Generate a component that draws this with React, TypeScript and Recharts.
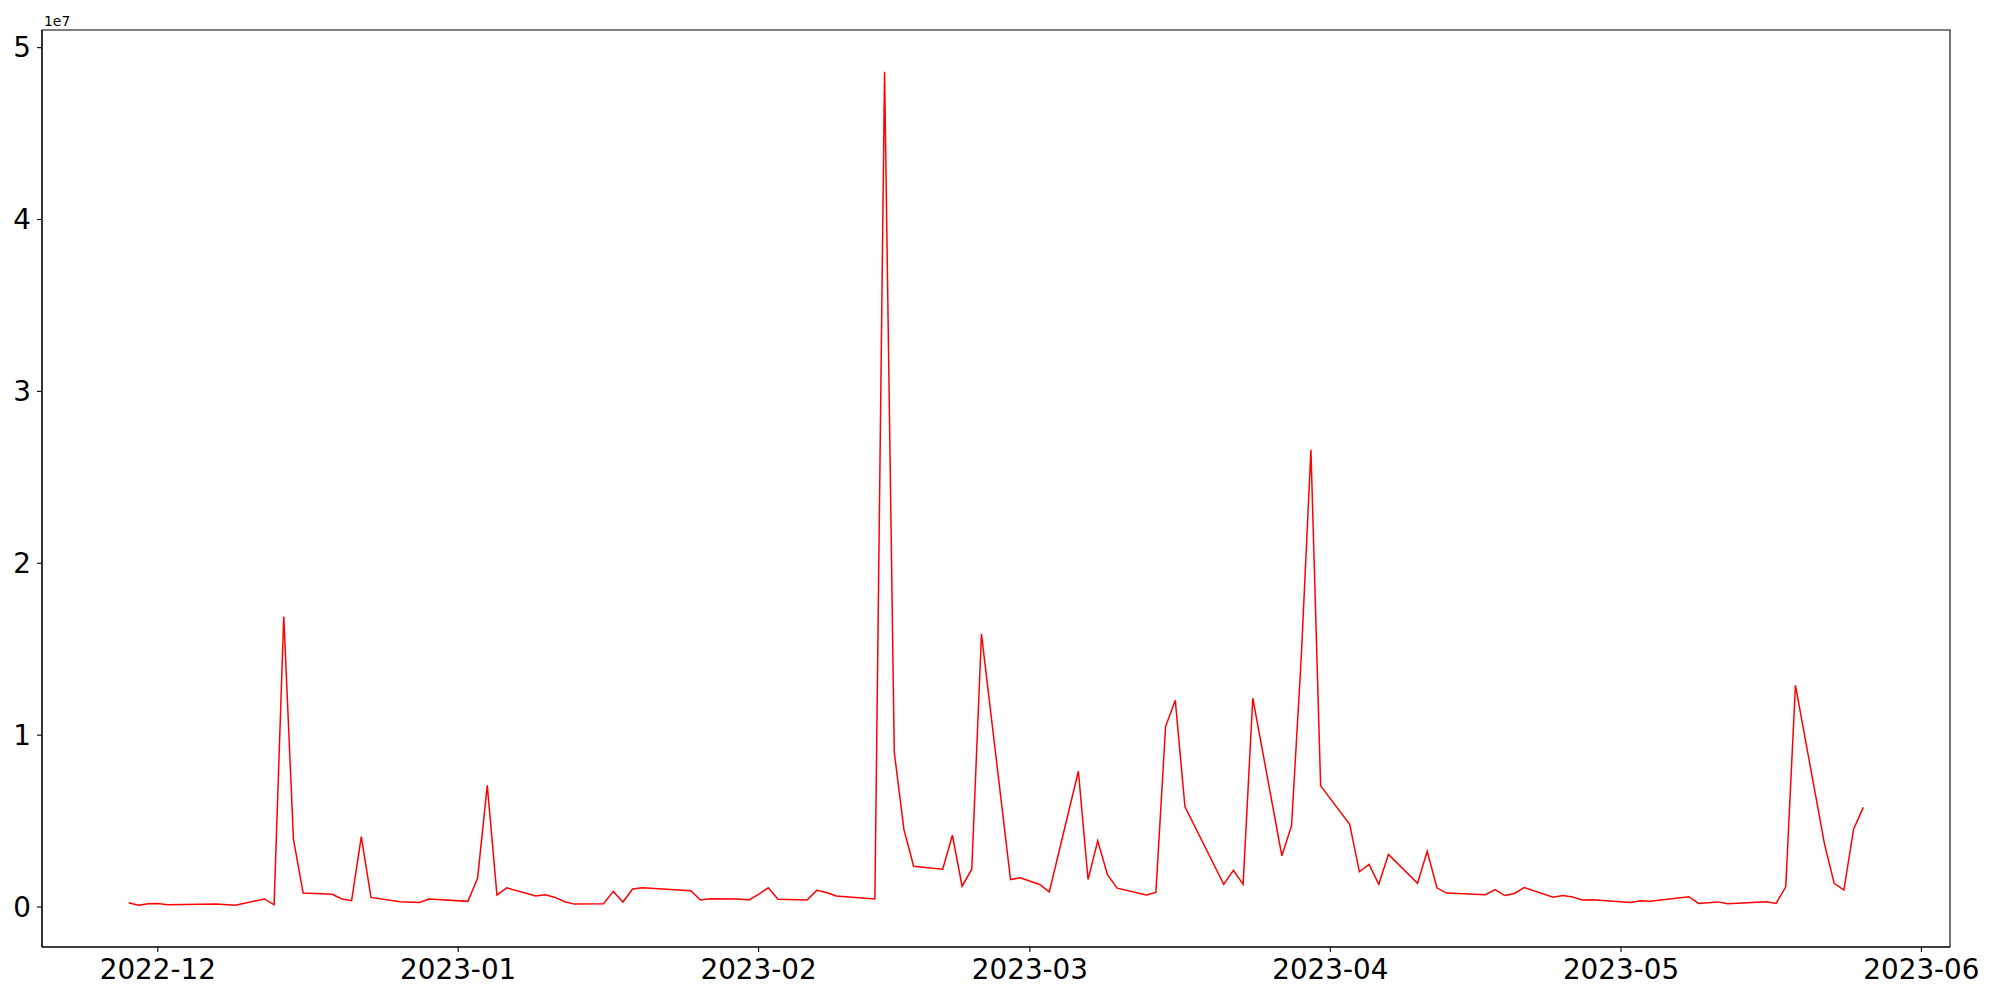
import { LineChart, Line, XAxis, YAxis, ReferenceArea } from 'recharts';

// trading days
const dates = [
  '2022-11-28', '2022-11-29', '2022-11-30', '2022-12-01', '2022-12-02', '2022-12-07', '2022-12-09',
  '2022-12-12', '2022-12-13', '2022-12-14', '2022-12-15', '2022-12-16', '2022-12-19', '2022-12-20',
  '2022-12-21', '2022-12-22', '2022-12-23', '2022-12-26', '2022-12-28', '2022-12-29', '2023-01-02',
  '2023-01-03', '2023-01-04', '2023-01-05', '2023-01-06', '2023-01-09', '2023-01-10', '2023-01-11',
  '2023-01-12', '2023-01-13', '2023-01-16', '2023-01-17', '2023-01-18', '2023-01-19', '2023-01-20',
  '2023-01-25', '2023-01-26', '2023-01-27', '2023-01-30', '2023-01-31', '2023-02-01', '2023-02-02',
  '2023-02-03', '2023-02-06', '2023-02-07', '2023-02-08', '2023-02-09', '2023-02-13', '2023-02-14',
  '2023-02-15', '2023-02-16', '2023-02-17', '2023-02-20', '2023-02-21', '2023-02-22', '2023-02-23',
  '2023-02-24', '2023-02-27', '2023-02-28', '2023-03-02', '2023-03-03', '2023-03-06', '2023-03-07',
  '2023-03-08', '2023-03-09', '2023-03-10', '2023-03-13', '2023-03-14', '2023-03-15', '2023-03-16',
  '2023-03-17', '2023-03-21', '2023-03-22', '2023-03-23', '2023-03-24', '2023-03-27', '2023-03-28',
  '2023-03-29', '2023-03-30', '2023-03-31', '2023-04-03', '2023-04-04', '2023-04-05', '2023-04-06',
  '2023-04-07', '2023-04-10', '2023-04-11', '2023-04-12', '2023-04-13', '2023-04-17', '2023-04-18',
  '2023-04-19', '2023-04-20', '2023-04-21', '2023-04-24', '2023-04-25', '2023-04-26', '2023-04-27',
  '2023-04-28', '2023-05-02', '2023-05-03', '2023-05-04', '2023-05-08', '2023-05-09', '2023-05-11',
  '2023-05-12', '2023-05-16', '2023-05-17', '2023-05-18', '2023-05-19', '2023-05-22', '2023-05-23',
  '2023-05-24', '2023-05-25', '2023-05-26',
];

// values in millions (axis shows 1e7 units)
const values = [
  0.25, 0.1, 0.19, 0.21, 0.13, 0.17, 0.1,
  0.47, 0.13, 16.9, 3.94, 0.81, 0.74, 0.47,
  0.37, 4.09, 0.56, 0.31, 0.27, 0.47, 0.33,
  1.67, 7.08, 0.69, 1.12, 0.64, 0.72, 0.56,
  0.31, 0.17, 0.19, 0.91, 0.29, 1.05, 1.12,
  0.95, 0.41, 0.48, 0.47, 0.41, 0.74, 1.12,
  0.45, 0.41, 0.97, 0.85, 0.64, 0.47, 48.6,
  9.02, 4.5, 2.37, 2.2, 4.18, 1.21, 2.2,
  15.88, 1.6, 1.7, 1.31, 0.88, 7.9, 1.6,
  3.85, 1.88, 1.1, 0.7, 0.85, 10.5, 12.03,
  5.83, 1.32, 2.13, 1.32, 12.15, 2.98, 4.73,
  14.5, 26.6, 7.05, 4.81, 2.05, 2.48, 1.32,
  3.06, 1.38, 3.24, 1.12, 0.81, 0.72, 1.02,
  0.67, 0.79, 1.13, 0.57, 0.67, 0.59, 0.41,
  0.42, 0.27, 0.37, 0.33, 0.6, 0.21, 0.3,
  0.19, 0.31, 0.21, 1.18, 12.9, 3.66, 1.38,
  0.99, 4.53, 5.8,
];

const monthTicks = ['2022-12-01', '2023-01-01', '2023-02-01', '2023-03-01', '2023-04-01', '2023-05-01', '2023-06-01'];
const monthLabels = ['2022-12', '2023-01', '2023-02', '2023-03', '2023-04', '2023-05', '2023-06'];
const yTicks = [0, 10, 20, 30, 40, 50];
const yLabels = ['0', '1', '2', '3', '4', '5'];

const FONT = '"DejaVu Sans", sans-serif';
const toTime = (d: string) => Date.parse(d + 'T00:00:00Z');

const data = dates.map((d, i) => ({ t: toTime(d), v: values[i] }));
const tickTimes = monthTicks.map(toTime);

// matplotlib-style 5% margins
const tMin = data[0].t;
const tMax = data[data.length - 1].t;
const xPad = (tMax - tMin) * 0.05;
const xDomain = [tMin - xPad, tMax + xPad];
const vMin = Math.min(...values);
const vMax = Math.max(...values);
const yPad = (vMax - vMin) * 0.05;
const yDomain = [vMin - yPad, vMax + yPad];

const tickStyle = { fontSize: 27.8, fill: '#000', fontFamily: FONT };

export default function App() {
  return (
    <div style={{ position: 'absolute', left: 0, top: 0, width: 2000, height: 1000, background: '#fff' }}>
      <LineChart width={2000} height={1000} data={data} margin={{ top: 30, right: 50, bottom: 0, left: 0 }}>
        <XAxis
          dataKey="t"
          type="number"
          domain={xDomain}
          allowDataOverflow
          ticks={tickTimes}
          interval={0}
          tickFormatter={(t: number) => monthLabels[tickTimes.indexOf(t)] ?? ''}
          tick={tickStyle}
          tickSize={5}
          tickMargin={7}
          height={53}
          axisLine={{ stroke: '#000', strokeWidth: 1.1 }}
          tickLine={{ stroke: '#000', strokeWidth: 1.1 }}
        />
        <YAxis
          type="number"
          domain={yDomain}
          allowDataOverflow
          ticks={yTicks}
          interval={0}
          tickFormatter={(v: number) => yLabels[yTicks.indexOf(v)] ?? ''}
          tick={tickStyle}
          tickSize={5}
          tickMargin={6}
          width={42}
          axisLine={{ stroke: '#000', strokeWidth: 1.1 }}
          tickLine={{ stroke: '#000', strokeWidth: 1.1 }}
        />
        <ReferenceArea
          x1={xDomain[0]}
          x2={xDomain[1]}
          y1={yDomain[0]}
          y2={yDomain[1]}
          fill="none"
          stroke="#000"
          strokeWidth={1.1}
          ifOverflow="visible"
        />
        <Line
          type="linear"
          dataKey="v"
          stroke="#ff0000"
          strokeWidth={1.5}
          dot={false}
          isAnimationActive={false}
        />
      </LineChart>
      <div style={{ position: 'absolute', left: 44, top: 13, fontSize: 13.9, fontFamily: FONT, color: '#000' }}>
        1e7
      </div>
    </div>
  );
}
